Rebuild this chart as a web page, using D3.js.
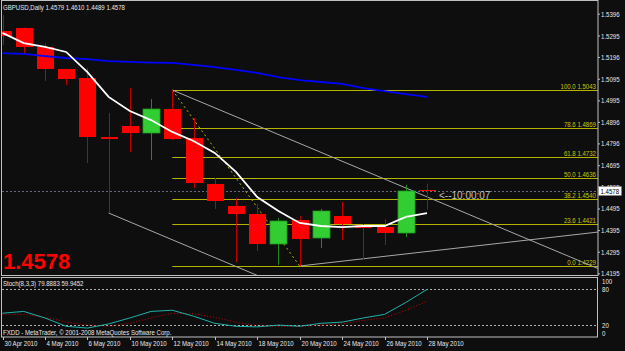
<!DOCTYPE html>
<html>
<head>
<meta charset="utf-8">
<script src="https://cdn.jsdelivr.net/npm/d3@7"></script>
<style>
  html, body { margin: 0; padding: 0; background: #0e0e0e; }
  svg { display: block; }
  text { font-family: "Liberation Sans", Arial, sans-serif; }
</style>
</head>
<body>
<svg id="chart"></svg>
<script>
// daily bars, GBPUSD
const dates = ["30 Apr","3 May","4 May","5 May","6 May","7 May","10 May","11 May","12 May","13 May","14 May",
               "17 May","18 May","19 May","20 May","21 May","24 May","25 May","26 May","27 May","28 May"];
const open  = [1.5316,1.5330,1.5242,1.5140,1.5099,1.4826,1.4876,1.4844,1.4955,1.4821,1.4608,
               1.4506,1.4470,1.4331,1.4442,1.4358,1.4460,1.4419,1.4409,1.4382,1.4579];
const high  = [1.5390,1.5332,1.5260,1.5142,1.5145,1.4937,1.5052,1.5001,1.5043,1.4913,1.4636,
               1.4543,1.4516,1.4451,1.4460,1.4493,1.4525,1.4423,1.4446,1.4604,1.4610];
const low   = [1.5251,1.5214,1.5085,1.5066,1.4705,1.4474,1.4756,1.4719,1.4812,1.4590,1.4493,
               1.4247,1.4298,1.4234,1.4229,1.4312,1.4349,1.4257,1.4326,1.4363,1.4489];
const close = [1.5293,1.5242,1.5140,1.5094,1.4826,1.4816,1.4844,1.4955,1.4816,1.4613,1.4530,
               1.4470,1.4331,1.4437,1.4354,1.4483,1.4423,1.4405,1.4383,1.4576,1.4578];

// moving averages
const maFast = [1.5307,1.5260,1.5242,1.5219,1.5126,1.5011,1.4946,1.4904,1.4849,1.4807,1.4752,
                1.4664,1.4548,1.4483,1.4428,1.4414,1.4409,1.4414,1.4414,1.4456,1.4474];
const maSlow = [1.5214,1.5210,1.5200,1.5191,1.5186,1.5177,1.5173,1.5170,1.5168,1.5159,1.5149,
                1.5136,1.5122,1.5103,1.5089,1.5080,1.5071,1.5052,1.5038,1.5024,1.5011];

// Stoch(8,3,3)
const stochMain   = [40,43,32,18,15,22,32,43,45,35,23,18,17,20,18,23,25,32,38,58,79.8883];
const stochSignal = [38,38,33,25,20,18,23,32,40,39,33,25,19,18,18,20,22,28,32,45,59.9452];

// fibo retracement 12 May high -> 20 May low
const fibHigh = 1.5043, fibLow = 1.4229;
const fibLevels = [100.0, 78.6, 61.8, 50.0, 38.2, 23.6, 0.0];

// trendlines [date, price]
const channelTop = [["12 May", 1.5043], ["27 May", 1.4590]];
const channelBot = [["7 May", 1.4474], ["14 May", 1.4268]];
const supportLine = [["20 May", 1.4229], ["28 May", 1.4296]];

const lastPrice = 1.4578;
const priceTicks = [1.5396,1.5295,1.5196,1.5095,1.4995,1.4896,1.4796,1.4695,1.4595,1.4495,1.4395,1.4295,1.4195];
const dateTicks = ["30 Apr","4 May","6 May","10 May","12 May","14 May","18 May","20 May","24 May","26 May","28 May"];
const stochTicks = [100, 80, 20, 0];

const width = 625, height = 351;
const frame = { left: 2, right: 598, top: 1, bottom: 275.5 };
const sub = { top: 277.5, bottom: 337 };
const SX = 0.87; // tahoma-ish narrow text

const svg = d3.select("#chart").attr("width", width).attr("height", height);
svg.append("rect").attr("width", width).attr("height", height).attr("fill", "#0e0e0e");

const x = d3.scalePoint().domain(dates).range([2.5, 427]);
const y = d3.scaleLinear().domain([fibLow, fibHigh]).range([266, 90]);
const ys = d3.scaleLinear().domain([0, 100]).range([sub.bottom, sub.top]);
const px = d => Math.round(x(d)) + 0.5;

function label(g, tx, ty, str, size, color, anchor) {
    return g.append("text")
        .attr("transform", `translate(${tx},${ty}) scale(${SX},1)`)
        .attr("font-size", size)
        .attr("fill", color)
        .attr("text-anchor", anchor || "start")
        .text(str);
}

svg.append("clipPath").attr("id", "clipMain").append("rect")
    .attr("x", frame.left).attr("y", frame.top)
    .attr("width", frame.right - frame.left).attr("height", frame.bottom - frame.top);
svg.append("clipPath").attr("id", "clipSub").append("rect")
    .attr("x", frame.left).attr("y", sub.top)
    .attr("width", frame.right - frame.left).attr("height", sub.bottom - sub.top);

const plot = svg.append("g").attr("clip-path", "url(#clipMain)");

// current price dotted line
plot.append("line")
    .attr("x1", frame.left).attr("x2", frame.right)
    .attr("y1", Math.round(y(lastPrice)) + 0.5).attr("y2", Math.round(y(lastPrice)) + 0.5)
    .attr("stroke", "#6a6a7e").attr("stroke-dasharray", "2,2");

// fibo levels
const fibG = plot.append("g");
const fibX0 = x("12 May");
fibLevels.forEach(lv => {
    const p = fibLow + (fibHigh - fibLow) * lv / 100;
    const yy = Math.round(y(p)) + 0.5;
    fibG.append("line")
        .attr("x1", fibX0).attr("x2", frame.right)
        .attr("y1", yy).attr("y2", yy)
        .attr("stroke", "#b4b400").attr("stroke-width", 1.2);
    label(fibG, 596, yy - 2, `${lv.toFixed(1)} ${p.toFixed(4)}`, 7, "#c8c800", "end");
});
fibG.append("line")
    .attr("x1", x("12 May")).attr("y1", y(fibHigh))
    .attr("x2", x("20 May")).attr("y2", y(fibLow))
    .attr("stroke", "#b4b400").attr("stroke-dasharray", "2,3");

// trendlines, extended to the right edge
function ray(pts, x0) {
    const [a, b] = pts;
    const x1 = x(a[0]), y1 = y(a[1]), x2 = x(b[0]), y2 = y(b[1]);
    const k = (y2 - y1) / (x2 - x1);
    plot.append("line")
        .attr("x1", x1).attr("y1", y1)
        .attr("x2", frame.right).attr("y2", y1 + k * (frame.right - x1))
        .attr("stroke", "#a8a8a8").attr("stroke-width", 1);
}
ray(channelTop);
ray(channelBot);
ray(supportLine);

// candles
const bars = dates.map((d, i) => ({ date: d, o: open[i], h: high[i], l: low[i], c: close[i] }));
const candles = plot.append("g");
candles.selectAll("line")
    .data(bars)
    .join("line")
    .attr("x1", d => px(d.date)).attr("x2", d => px(d.date))
    .attr("y1", d => y(d.h)).attr("y2", d => y(d.l))
    .attr("stroke", d => d.c > d.o ? "#1e8c1e" : "#c00000");
candles.selectAll("rect")
    .data(bars)
    .join("rect")
    .attr("x", d => Math.round(x(d.date)) - 8)
    .attr("width", 17)
    .attr("y", d => Math.round(y(Math.max(d.o, d.c))))
    .attr("height", d => Math.max(1, Math.round(Math.abs(y(d.o) - y(d.c)))))
    .attr("fill", d => d.c > d.o ? "#32cd32" : "#ff0000")
    .attr("stroke", d => d.c > d.o ? "#1f9a1f" : "none")
    .attr("stroke-width", 0.8);

// moving averages
const maLine = d3.line().x((d, i) => x(dates[i])).y(d => y(d));
plot.append("path").attr("d", maLine(maSlow))
    .attr("fill", "none").attr("stroke", "#0000ff").attr("stroke-width", 1.8);
plot.append("path").attr("d", maLine(maFast))
    .attr("fill", "none").attr("stroke", "#ffffff").attr("stroke-width", 1.8);

// texts in main window
label(svg, 3, 9.5, "GBPUSD,Daily  1.4579 1.4610 1.4489 1.4578", 7, "#e8e8e8");
svg.append("text").attr("x", 3).attr("y", 269)
    .attr("font-size", 22).attr("font-weight", "bold").attr("fill", "#ff0000")
    .text(lastPrice.toFixed(4));
svg.append("text").attr("x", 439).attr("y", 198.5)
    .attr("font-size", 10).attr("fill", "#c0c0c0")
    .text("<--10:00:07");

// price axis
const yAxis = svg.append("g")
    .attr("transform", `translate(${frame.right},0)`)
    .call(d3.axisRight(y).tickValues(priceTicks).tickFormat(d3.format(".4f")).tickSize(2));
yAxis.select(".domain").remove();
yAxis.selectAll("line").attr("stroke", "#c0c0c0");
yAxis.selectAll("text")
    .attr("x", 0).attr("dy", null)
    .attr("transform", `translate(3,2.5) scale(${SX},1)`)
    .attr("font-size", 7).attr("font-family", null).attr("fill", "#e8e8e8");

// last price box
const boxY = Math.round(y(lastPrice));
svg.append("rect").attr("x", 598.5).attr("y", boxY - 4.5).attr("width", 23).attr("height", 9)
    .attr("fill", "#ffffff").attr("stroke", "#808080").attr("stroke-width", 0.5);
label(svg, 600.5, boxY + 2.5, lastPrice.toFixed(4), 7, "#000000");

// frames
svg.append("rect")
    .attr("x", frame.left - 0.5).attr("y", frame.top - 0.5)
    .attr("width", frame.right - frame.left + 0.5).attr("height", frame.bottom - frame.top + 0.5)
    .attr("fill", "none").attr("stroke", "#c0c0c0");
svg.append("rect")
    .attr("x", frame.left - 0.5).attr("y", sub.top)
    .attr("width", frame.right - frame.left).attr("height", sub.bottom - sub.top)
    .attr("fill", "none").attr("stroke", "#c0c0c0");

// stochastic window
const st = svg.append("g").attr("clip-path", "url(#clipSub)");
[80, 20].forEach(v => {
    st.append("line")
        .attr("x1", frame.left).attr("x2", frame.right)
        .attr("y1", Math.round(ys(v)) + 0.5).attr("y2", Math.round(ys(v)) + 0.5)
        .attr("stroke", "#b0b0b0").attr("stroke-dasharray", "2,2");
});
const stLine = d3.line().x((d, i) => x(dates[i])).y(d => ys(d));
st.append("path").attr("d", stLine(stochSignal))
    .attr("fill", "none").attr("stroke", "#d00000").attr("stroke-width", 1)
    .attr("stroke-dasharray", "1,2");
st.append("path").attr("d", stLine(stochMain))
    .attr("fill", "none").attr("stroke", "#20b2aa").attr("stroke-width", 1);

label(svg, 3, 285.5, "Stoch(8,3,3) 79.8883 59.9452", 7, "#e8e8e8");
label(svg, 3, 334.5, "FXDD - MetaTrader, \u00a9 2001-2008 MetaQuotes Software Corp.", 7, "#e8e8e8");

stochTicks.forEach(v => {
    const yy = Math.min(Math.max(ys(v), 281), 333);
    label(svg, 602, yy + 2.5, String(v), 7, "#e8e8e8");
});

// time axis
const xAxis = svg.append("g")
    .attr("transform", `translate(0,${sub.bottom})`)
    .call(d3.axisBottom(x).tickValues(dateTicks).tickFormat(d => d + " 2010").tickSize(3));
xAxis.select(".domain").remove();
xAxis.selectAll(".tick").attr("transform", d => `translate(${px(d)},0)`);
xAxis.selectAll("line").attr("stroke", "#c0c0c0");
xAxis.selectAll("text")
    .attr("y", null).attr("dy", null)
    .attr("text-anchor", "start")
    .attr("transform", `translate(1,9) scale(${SX},1)`)
    .attr("font-size", 7).attr("font-family", null).attr("fill", "#e8e8e8");
</script>
</body>
</html>
